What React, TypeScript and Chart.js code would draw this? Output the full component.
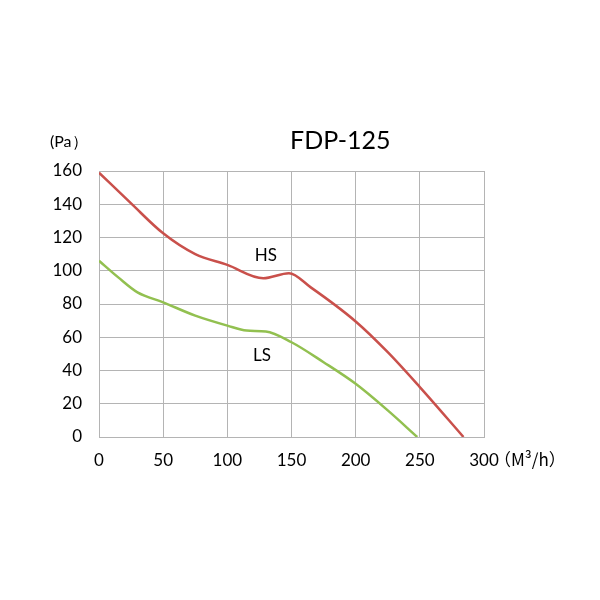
import { useEffect, useRef } from 'react';
import { Chart, registerables } from 'chart.js';

Chart.register(...registerables);

// airflow (M³/h) vs static pressure (Pa)
const hsFlow = [0, 25, 50, 75, 100, 128, 148, 165, 200, 225, 250, 284];
const hsPressure = [159, 140.5, 122.5, 110, 103.5, 95.5, 98.5, 90, 69.5, 51, 30, 0];
const lsFlow = [0, 15, 30, 50, 75, 100, 115, 130, 150, 175, 200, 225, 248];
const lsPressure = [106, 96, 87, 81, 73, 67, 64, 63.5, 57, 45, 32, 16, 0];
const xTicks = [0, 50, 100, 150, 200, 250, 300];
const yTicks = [0, 20, 40, 60, 80, 100, 120, 140, 160];

const FONT = 'Lato, "Noto Sans", sans-serif';
const CJK = '"Noto Sans CJK SC", sans-serif';
const GRID = '#b4b4b4';

const toPoints = (xs: number[], ys: number[]) => xs.map((x, i) => ({ x, y: ys[i] }));

export default function App(): JSX.Element {
  const canvasRef = useRef<HTMLCanvasElement>(null);

  useEffect(() => {
    if (!canvasRef.current) return;

    const labelsPlugin = {
      id: 'curveLabels',
      afterDraw(chart: Chart): void {
        const { ctx, chartArea, scales } = chart;
        const x = scales['x'];
        const y = scales['y'];
        ctx.save();
        ctx.fillStyle = '#000';
        ctx.textBaseline = 'middle';
        ctx.textAlign = 'center';
        ctx.font = `17px ${FONT}`;
        ctx.fillText('HS', x.getPixelForValue(130), y.getPixelForValue(109));
        ctx.fillText('LS', x.getPixelForValue(127), y.getPixelForValue(49));
        ctx.font = `25px ${FONT}`;
        ctx.fillText('FDP-125', x.getPixelForValue(188), chartArea.top - 30);
        ctx.font = `16px ${FONT}`;
        ctx.textAlign = 'left';
        ctx.fillText('(Pa）', 50, chartArea.top - 29);
        ctx.font = `17px ${CJK}`;
        ctx.fillText('（M³/h）', chartArea.right + 10, chartArea.bottom + 23);
        ctx.restore();
      },
    };

    const chart = new Chart(canvasRef.current, {
      type: 'line',
      plugins: [labelsPlugin],
      data: {
        datasets: [
          {
            label: 'HS',
            data: toPoints(hsFlow, hsPressure),
            borderColor: '#c9504b',
            borderWidth: 2.5,
            pointRadius: 0,
            cubicInterpolationMode: 'monotone',
          },
          {
            label: 'LS',
            data: toPoints(lsFlow, lsPressure),
            borderColor: '#92c050',
            borderWidth: 2.5,
            pointRadius: 0,
            cubicInterpolationMode: 'monotone',
          },
        ],
      },
      options: {
        responsive: false,
        animation: false,
        layout: { padding: { left: 0, right: 116, top: 171, bottom: 133 } },
        plugins: { legend: { display: false }, tooltip: { enabled: false }, title: { display: false } },
        scales: {
          x: {
            type: 'linear',
            min: 0,
            max: 300,
            afterFit: s => { s.height = 30; },
            afterBuildTicks: s => { s.ticks = xTicks.map(v => ({ value: v })); },
            ticks: { color: '#000', padding: 13, font: { family: FONT, size: 17 } },
            grid: { color: GRID, drawTicks: false },
            border: { color: GRID },
          },
          y: {
            min: 0,
            max: 160,
            afterFit: s => { s.width = 99; },
            afterBuildTicks: s => { s.ticks = yTicks.map(v => ({ value: v })); },
            ticks: { color: '#000', padding: 17, font: { family: FONT, size: 17 } },
            grid: { color: GRID, drawTicks: false },
            border: { color: GRID },
          },
        },
      },
    });

    return () => { chart.destroy(); };
  }, []);

  return (
    <div style={{ position: 'fixed', left: 0, top: 0, width: 600, height: 600, background: '#fff' }}>
      <canvas ref={canvasRef} width={600} height={600} />
    </div>
  );
}
